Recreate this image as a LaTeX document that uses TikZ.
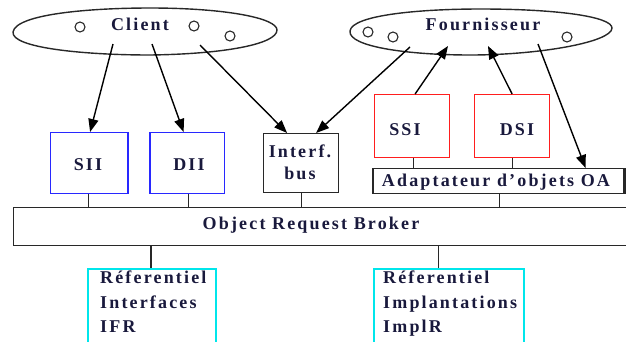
\documentclass[tikz,border=0pt]{standalone}
\usepackage{fontspec}
\setmainfont{Liberation Serif}[LetterSpace=12]
\usetikzlibrary{arrows.meta}
\definecolor{ink}{RGB}{25,25,60}
\definecolor{linec}{RGB}{40,40,40}
\definecolor{bleu}{RGB}{40,40,255}
\definecolor{rouge}{RGB}{255,30,30}
\definecolor{cyanb}{RGB}{0,230,235}
\tikzset{
  lbl/.style={font=\fontsize{18}{22}\selectfont\bfseries, text=ink, inner sep=0pt},
  box/.style={draw=linec, line width=1.2pt, inner sep=0pt},
  ell/.style={draw=linec, line width=1.4pt},
  dot/.style={draw=linec, line width=1.1pt},
  arr/.style={draw=black, line width=1.4pt, -{Triangle[length=13pt,width=10pt]}},
  link/.style={draw=linec, line width=1.1pt},
}
\begin{document}
\begin{tikzpicture}[x=1pt,y=-1pt]
\useasboundingbox (0,0) rectangle (626,341);

% client and provider objects
\draw[ell] (13,32) .. controls (16,14) and (90,8) .. (150,8)
  .. controls (225,8) and (277,18) .. (277,30)
  .. controls (277,44) and (225,54) .. (150,55)
  .. controls (85,55) and (11,48) .. (13,32);
\draw[ell] (350,31) .. controls (352,15) and (420,9) .. (480,9)
  .. controls (560,9) and (612,17) .. (612,28)
  .. controls (612,42) and (540,55) .. (470,55)
  .. controls (410,55) and (348,47) .. (350,31);
\foreach \p in {(80,27),(194,26),(230,36),(368,32),(393,37),(567,37)}
  \draw[dot] \p circle (5);
\node[lbl] (client) at (140,24) {Client};
\node[lbl] (fourn) at (483,24) {Fournisseur};

% anchor points on the two objects
\coordinate (c1) at (113,44);
\coordinate (c2) at (152,44);
\coordinate (c3) at (200,45);
\coordinate (f1) at (410,47);
\coordinate (f2) at (448,46);
\coordinate (f3) at (488,46);
\coordinate (f4) at (538,44);

% interface boxes
\node[box, draw=bleu, minimum width=77, minimum height=61, anchor=north west] (sii) at (50,132) {};
\node[lbl] at (88,165) {SII};
\node[box, draw=bleu, minimum width=74, minimum height=61, anchor=north west] (dii) at (150,132) {};
\node[lbl] at (189,165) {DII};
\draw[bleu, line width=2pt] (sii.north east) -- (sii.south east);
\draw[bleu, line width=2pt] (dii.north west) -- (dii.south west);
\node[box, minimum width=75, minimum height=59, anchor=north west] (bus) at (263,133) {};
\node[lbl, align=center] at (300,162) {Interf.\\bus};
\node[box, draw=rouge, minimum width=75, minimum height=63, anchor=north west] (ssi) at (374,94) {};
\node[lbl] at (405,130) {SSI};
\node[box, draw=rouge, minimum width=75, minimum height=63, anchor=north west] (dsi) at (474,94) {};
\node[lbl] at (517,130) {DSI};
\node[box, minimum width=250, minimum height=25, anchor=north west] (oa) at (373,168) {};
\draw[linec, line width=2.6pt] (oa.north west) -- (oa.south west);
\draw[linec, line width=2.6pt] (oa.north east) -- (oa.south east);
\node[lbl, anchor=base] at (496,186) {Adaptateur d’objets OA};

% broker
\node[box, minimum width=627, minimum height=38, anchor=north west] (orb) at (13,207) {};
\node[lbl] at (311,225) {Object Request Broker};

% repositories
\node[box, draw=cyanb, line width=1.6pt, minimum width=128, minimum height=90, anchor=north west] (ifr) at (87,268) {};
\node[lbl, align=left, anchor=north west, font=\fontsize{18}{24.5}\selectfont\bfseries] at (100,271) {Réferentiel\\Interfaces\\IFR};
\node[box, draw=cyanb, line width=1.6pt, minimum width=150, minimum height=90, anchor=north west] (implr) at (373,268) {};
\node[lbl, align=left, anchor=north west, font=\fontsize{18}{24.5}\selectfont\bfseries] at (383,271) {Réferentiel\\Implantations\\ImplR};

% invocations
\draw[arr] (c1) -- ([xshift=1]sii.north);
\draw[arr] (c2) -- ([xshift=-4]dii.north);
\draw[arr] (c3) -- ([xshift=-14]bus.north);
\draw[arr] (f1) -- ([xshift=15]bus.north);
\draw[arr] ([xshift=3]ssi.north) -- (f2);
\draw[arr] (dsi.north) -- (f3);
\draw[arr] (f4) -- ([xshift=87]oa.north);

% attachments
\draw[link] ([xshift=-1]sii.south) -- ([xshift=-1]sii.south |- orb.north);
\draw[link] ([xshift=1]dii.south) -- ([xshift=1]dii.south |- orb.north);
\draw[link] (bus.south) -- (bus.south |- orb.north);
\draw[link] ([xshift=1]ssi.south) -- ([xshift=1]ssi.south |- oa.north);
\draw[link] (dsi.south) -- (dsi.south |- oa.north);
\draw[link] ([xshift=1]oa.south) -- ([xshift=1]oa.south |- orb.north);
\draw[linec, line width=2.6pt] ([xshift=-1]ifr.north) -- ([xshift=-1]ifr.north |- orb.south);
\draw[link] ([xshift=-10]implr.north) -- ([xshift=-10]implr.north |- orb.south);
\end{tikzpicture}
\end{document}
